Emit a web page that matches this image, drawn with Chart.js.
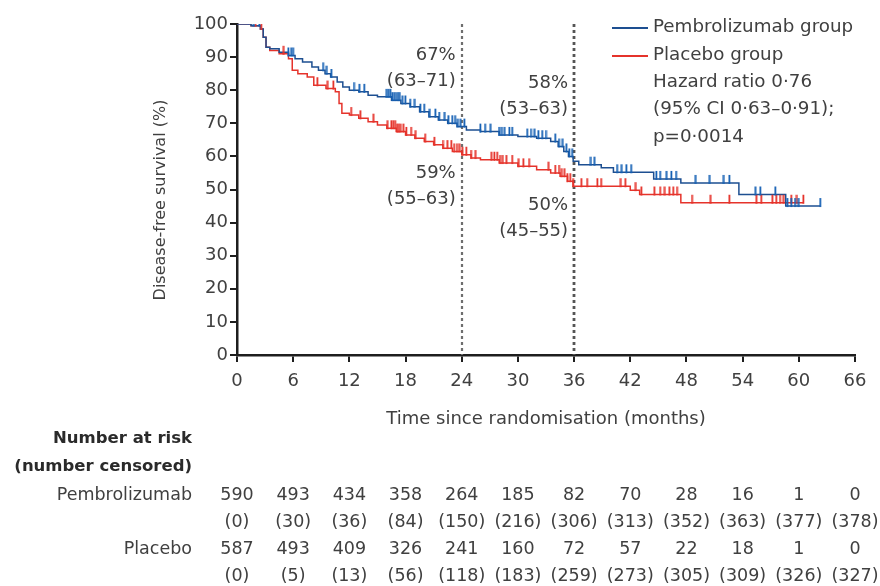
<!DOCTYPE html>
<html>
<head>
<meta charset="utf-8">
<title>Disease-free survival</title>
<script src="https://cdn.jsdelivr.net/npm/chart.js@4.4.0/dist/chart.umd.min.js"></script>
<style>
  html, body { margin: 0; padding: 0; background: #ffffff; }
  #wrap { width: 880px; height: 586px; }
</style>
</head>
<body>
<div id="wrap"><canvas id="km" width="880" height="586"></canvas></div>
<script>
// ---- Data ---------------------------------------------------------------
const monthTicks = [0, 6, 12, 18, 24, 30, 36, 42, 48, 54, 60, 66];
const percentTicks = [0, 10, 20, 30, 40, 50, 60, 70, 80, 90, 100];

// Kaplan-Meier steps: time (months) and survival (%) after each step
const pembroTimes = [0, 1.5, 2.5, 2.8, 3.1, 3.5, 4.5, 5.5, 6.2, 7, 8, 8.7, 9.4, 10, 10.7, 11.3, 12, 13, 14, 15, 16.5, 17.5, 18.5, 19.5, 20.5, 21.5, 22.5, 23.5, 24.5, 26, 28, 30, 32, 33.5, 34.3, 34.9, 35.4, 35.9, 36.5, 38.9, 40.2, 44.5, 47.4, 53.6, 58.6, 62.3];
const pembroSurv  = [100, 99.5, 98.5, 96, 93, 92.5, 91.5, 90.5, 89.5, 88.5, 87, 86, 85, 84, 82.5, 81, 80, 79.5, 78.5, 78, 77, 76, 75, 73.5, 72, 71, 70, 69, 68, 67.5, 66.5, 66, 65.5, 64.5, 63, 61.5, 60, 58.5, 57.5, 56.6, 55.2, 53.2, 52, 48.5, 45, 45];

const placeboTimes = [0, 1.5, 2.5, 2.8, 3.1, 3.5, 4.5, 5.5, 5.9, 6.5, 7.5, 8.2, 9.5, 10.5, 10.9, 11.2, 12, 13, 14, 15, 16, 17, 18, 19, 20, 21, 22, 23, 24, 25, 26, 28, 30, 32, 33.5, 34.5, 35.3, 35.9, 42, 43, 47.4, 60.5];
const placeboSurv  = [100, 99.5, 98.5, 96, 93, 92, 91, 89.5, 86, 85, 84, 81.5, 80.5, 79.5, 76, 73, 72.5, 71.5, 70.5, 69.5, 68.5, 67.5, 66.5, 65.5, 64.5, 63.5, 62.5, 61.5, 60.5, 59.5, 59, 58, 57, 56, 55, 54, 52.5, 51, 49.8, 48.5, 46, 46];

// Censoring times (months)
const pembroCensored = [1.2, 1.8, 2.4, 5.5, 5.8, 6.0, 9.2, 9.6, 10.1, 12.5, 13.1, 13.6,
  16.0, 16.2, 16.4, 16.6, 16.8, 17.0, 17.2, 17.4, 17.7, 18.0, 18.5, 19.0, 19.6, 20.0, 20.6, 21.2, 21.6,
  22.2, 22.6, 23.0, 23.3, 23.6, 23.9, 24.3, 26.0, 26.5, 27.1, 28.0, 28.3, 28.6, 29.1, 29.4,
  31.0, 31.4, 31.8, 32.2, 32.6, 33.0, 34.0, 34.4, 34.8, 35.2, 35.5, 35.8,
  37.8, 38.2, 40.6, 41.1, 41.6, 42.1, 44.8, 45.2, 45.9, 46.4, 46.9, 49.0, 50.5, 52.0, 52.6,
  55.4, 55.9, 57.5, 58.8, 59.2, 59.6, 60.0, 62.3];
const placeboCensored = [1.2, 2.0, 2.6, 5.0, 8.6, 9.7, 10.3, 12.2, 13.2, 14.6, 16.1,
  16.5, 16.7, 16.9, 17.1, 17.3, 17.5, 17.8, 18.1, 18.6, 19.1, 20.1, 21.1, 22.0, 22.5, 22.9, 23.2, 23.5, 23.8, 24.1,
  24.5, 25.0, 25.5, 27.2, 27.5, 27.8, 28.1, 28.4, 28.8, 29.4, 30.1, 30.6, 31.2, 33.3,
  34.0, 34.4, 34.7, 35.0, 35.3, 35.6, 35.9, 36.8, 37.4, 38.5, 38.9, 41.0, 41.5, 42.6, 43.2,
  44.6, 45.2, 45.7, 46.2, 46.6, 47.0, 48.6, 50.6, 52.6, 55.5, 56.0, 57.2, 57.6, 58.0, 58.4, 59.2, 59.8, 60.5];

// Landmark estimates at 24 and 36 months
const landmarkMonths = [24, 36];
const pembroLandmarks = [['67%', '(63–71)'], ['58%', '(53–63)']];
const placeboLandmarks = [['59%', '(55–63)'], ['50%', '(45–55)']];

// Number at risk (number censored) at each tick month
const pembroAtRisk    = [590, 493, 434, 358, 264, 185, 82, 70, 28, 16, 1, 0];
const pembroCensCum   = [0, 30, 36, 84, 150, 216, 306, 313, 352, 363, 377, 378];
const placeboAtRisk   = [587, 493, 409, 326, 241, 160, 72, 57, 22, 18, 1, 0];
const placeboCensCum  = [0, 5, 13, 56, 118, 183, 259, 273, 305, 309, 326, 327];

const legendLines = ['Pembrolizumab group', 'Placebo group'];
const statLines = ['Hazard ratio 0·76', '(95% CI 0·63–0·91);', 'p=0·0014'];

// ---- Styling ------------------------------------------------------------
const BLUE = '#1d4f91';
const BLUE_TICK = '#1560b4';
const RED = '#e5332b';
const INK = '#404040';
const AXIS = '#1e1e1e';
const FONT = '"DejaVu Sans", sans-serif';

// survival value in effect at time t
function survAt(times, surv, t) {
  let v = surv[0];
  for (let i = 0; i < times.length; i++) {
    if (times[i] <= t) v = surv[i]; else break;
  }
  return v;
}

const toPoints = (times, surv) => times.map((t, i) => ({ x: t, y: surv[i] }));
const censorPoints = (cens, times, surv) => cens.map(t => ({ x: t, y: survAt(times, surv, t) }));

// censor tick glyph: a short vertical stroke standing on the curve
function censorGlyph(color) {
  const c = document.createElement('canvas');
  c.width = 3;
  c.height = 18;
  const g = c.getContext('2d');
  g.fillStyle = color;
  g.fillRect(0.5, 1, 1.8, 9);
  return c;
}

// Extra drawing: landmark lines, labels, legend, axis titles, risk table
const annotations = {
  id: 'annotations',
  beforeDatasetsDraw(chart) {
    const { ctx, scales: { x, y } } = chart;
    ctx.save();
    landmarkMonths.forEach((m, i) => {
      const px = Math.round(x.getPixelForValue(m));
      ctx.beginPath();
      ctx.setLineDash([3, 3]);
      ctx.lineWidth = i === 0 ? 2.2 : 2.8;
      ctx.strokeStyle = i === 0 ? '#6e6e6e' : '#555555';
      ctx.moveTo(px, y.getPixelForValue(100));
      ctx.lineTo(px, y.getPixelForValue(0));
      ctx.stroke();
    });
    ctx.restore();
  },
  afterDraw(chart) {
    const { ctx, scales: { x, y }, chartArea } = chart;
    ctx.save();
    ctx.fillStyle = INK;
    ctx.font = '18px ' + FONT;
    ctx.textBaseline = 'middle';

    // landmark labels, right-aligned just left of each dashed line
    ctx.textAlign = 'right';
    const lm = [
      { m: 24, lines: pembroLandmarks[0], y1: 55 },
      { m: 24, lines: placeboLandmarks[0], y1: 173 },
      { m: 36, lines: pembroLandmarks[1], y1: 83 },
      { m: 36, lines: placeboLandmarks[1], y1: 205 }
    ];
    lm.forEach(l => {
      const px = x.getPixelForValue(l.m) - 6;
      ctx.fillText(l.lines[0], px, l.y1);
      ctx.fillText(l.lines[1], px, l.y1 + 26);
    });

    // legend
    ctx.textAlign = 'left';
    ctx.font = '18.3px ' + FONT;
    const lx = 612, tx = 653;
    [[BLUE, legendLines[0], 27], [RED, legendLines[1], 55]].forEach(([c, t, yy]) => {
      ctx.beginPath();
      ctx.setLineDash([]);
      ctx.strokeStyle = c;
      ctx.lineWidth = 2;
      ctx.moveTo(lx, yy + 1);
      ctx.lineTo(tx - 5, yy + 1);
      ctx.stroke();
      ctx.fillText(t, tx, yy);
    });
    statLines.forEach((t, i) => ctx.fillText(t, tx, 82 + i * 27.5));

    // axis titles
    ctx.font = '18px ' + FONT;
    ctx.textAlign = 'center';
    ctx.fillText('Time since randomisation (months)', 546, 419);
    ctx.save();
    ctx.font = '16px ' + FONT;
    ctx.translate(161, 200);
    ctx.rotate(-Math.PI / 2);
    ctx.fillText('Disease-free survival (%)', 0, 0);
    ctx.restore();

    // risk table
    const labelX = 192;
    ctx.textAlign = 'right';
    ctx.font = 'bold 16.5px ' + FONT;
    ctx.fillStyle = '#2a2a2a';
    ctx.fillText('Number at risk', labelX, 439);
    ctx.fillText('(number censored)', labelX, 467);
    ctx.font = '17.5px ' + FONT;
    ctx.fillStyle = INK;
    ctx.fillText('Pembrolizumab', labelX, 495);
    ctx.fillText('Placebo', labelX, 549);
    ctx.textAlign = 'center';
    monthTicks.forEach((m, i) => {
      const px = x.getPixelForValue(m);
      ctx.fillText(String(pembroAtRisk[i]), px, 495);
      ctx.fillText('(' + pembroCensCum[i] + ')', px, 522);
      ctx.fillText(String(placeboAtRisk[i]), px, 549);
      ctx.fillText('(' + placeboCensCum[i] + ')', px, 576);
    });
    ctx.restore();
  }
};

new Chart(document.getElementById('km'), {
  type: 'line',
  data: {
    datasets: [
      {
        label: legendLines[0],
        data: toPoints(pembroTimes, pembroSurv),
        stepped: 'before',
        borderColor: BLUE,
        borderWidth: 1.5,
        pointRadius: 0,
        fill: false,
        order: 2
      },
      {
        label: legendLines[1],
        data: toPoints(placeboTimes, placeboSurv),
        stepped: 'before',
        borderColor: RED,
        borderWidth: 1.5,
        pointRadius: 0,
        fill: false,
        order: 3
      },
      {
        type: 'scatter',
        label: 'Pembrolizumab censored',
        data: censorPoints(pembroCensored, pembroTimes, pembroSurv),
        pointStyle: censorGlyph(BLUE_TICK),
        order: 0
      },
      {
        type: 'scatter',
        label: 'Placebo censored',
        data: censorPoints(placeboCensored, placeboTimes, placeboSurv),
        pointStyle: censorGlyph(RED),
        order: 1
      }
    ]
  },
  options: {
    responsive: false,
    animation: false,
    devicePixelRatio: 1,
    layout: { padding: { left: 0, top: 24, right: 25, bottom: 0 } },
    plugins: { legend: { display: false }, tooltip: { enabled: false } },
    elements: { line: { tension: 0 } },
    scales: {
      x: {
        type: 'linear',
        min: 0,
        max: 66,
        afterBuildTicks: s => { s.ticks = monthTicks.map(v => ({ value: v })); },
        afterFit: s => { s.height = 231; },
        ticks: { color: INK, font: { family: FONT, size: 18 }, padding: 9, maxRotation: 0, autoSkip: false },
        grid: { drawOnChartArea: false, drawTicks: true, tickLength: 7, color: AXIS, lineWidth: 2 },
        border: { display: true, color: AXIS, width: 2.5 }
      },
      y: {
        type: 'linear',
        min: 0,
        max: 100,
        afterBuildTicks: s => { s.ticks = percentTicks.map(v => ({ value: v })); },
        afterFit: s => { s.width = 237; },
        ticks: { color: INK, font: { family: FONT, size: 18 }, padding: 2, autoSkip: false },
        grid: { drawOnChartArea: false, drawTicks: true, tickLength: 7, color: AXIS, lineWidth: 2 },
        border: { display: true, color: AXIS, width: 2.5 }
      }
    }
  },
  plugins: [annotations]
});
</script>
</body>
</html>
